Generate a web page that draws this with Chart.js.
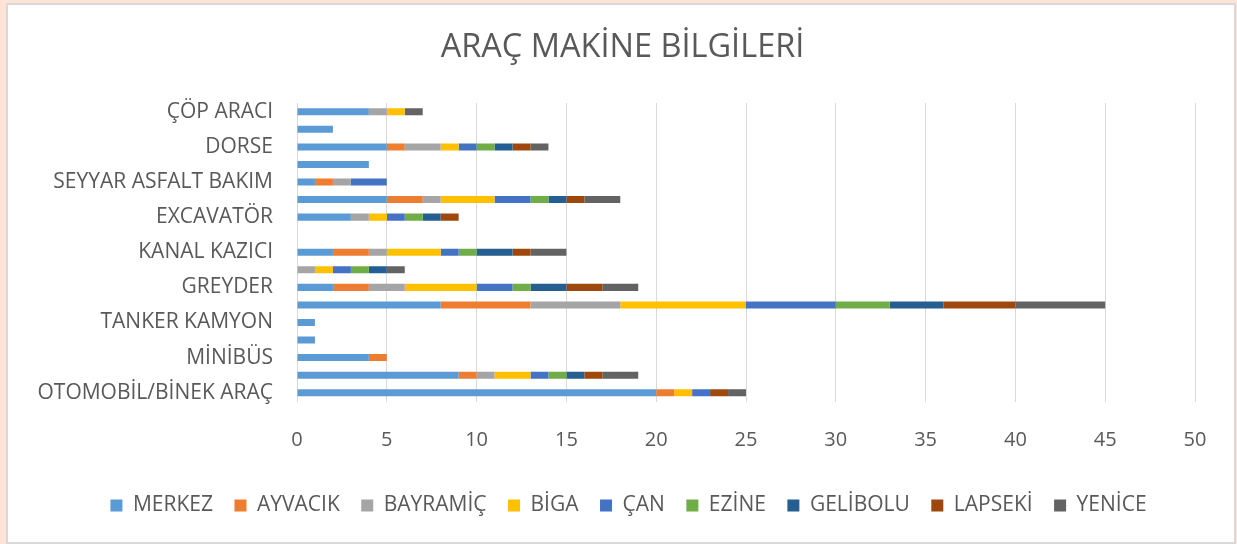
<!DOCTYPE html>
<html>
<head>
<meta charset="utf-8">
<script src="https://cdn.jsdelivr.net/npm/chart.js@4/dist/chart.umd.min.js"></script>
<style>
  html, body { margin: 0; padding: 0; background: #fde4d6; width: 1237px; height: 544px; overflow: hidden; }
  #frame { position: absolute; left: 6px; top: 3px; width: 1226px; height: 537px; background: #fff; border: 2px solid #d9d9d9; }
  #wrap { position: absolute; left: 0; top: 0; width: 1237px; height: 544px; }
</style>
</head>
<body>
<div id="frame"></div>
<div id="wrap"><canvas id="c" width="1237" height="544"></canvas></div>
<script>
// Categories, top to bottom (only every other label is shown in the reference)
const categories = [
  "ÇÖP ARACI", "VİDANJÖR", "DORSE", "TRAKTÖR", "SEYYAR ASFALT BAKIM", "KAMYONET",
  "EXCAVATÖR", "SİLİNDİR", "KANAL KAZICI", "LODER", "GREYDER", "KAMYON",
  "TANKER KAMYON", "MOTOSİKLET", "MİNİBÜS", "PİKAP", "OTOMOBİL/BİNEK ARAÇ"
];
const seriesNames = ["MERKEZ", "AYVACIK", "BAYRAMİÇ", "BİGA", "ÇAN", "EZİNE", "GELİBOLU", "LAPSEKİ", "YENİCE"];
const merkez   = [4, 2, 5, 4, 1, 5, 3, 0, 2, 0, 2, 8, 1, 1, 4, 9, 20];
const ayvacik  = [0, 0, 1, 0, 1, 2, 0, 0, 2, 0, 2, 5, 0, 0, 1, 1, 1];
const bayramic = [1, 0, 2, 0, 1, 1, 1, 0, 1, 1, 2, 5, 0, 0, 0, 1, 0];
const biga     = [1, 0, 1, 0, 0, 3, 1, 0, 3, 1, 4, 7, 0, 0, 0, 2, 1];
const can      = [0, 0, 1, 0, 2, 2, 1, 0, 1, 1, 2, 5, 0, 0, 0, 1, 1];
const ezine    = [0, 0, 1, 0, 0, 1, 1, 0, 1, 1, 1, 3, 0, 0, 0, 1, 0];
const gelibolu = [0, 0, 1, 0, 0, 1, 1, 0, 2, 1, 2, 3, 0, 0, 0, 1, 0];
const lapseki  = [0, 0, 1, 0, 0, 1, 1, 0, 1, 0, 2, 4, 0, 0, 0, 1, 1];
const yenice   = [1, 0, 1, 0, 0, 2, 0, 0, 2, 1, 2, 5, 0, 0, 0, 2, 1];
const xTicks = [0, 5, 10, 15, 20, 25, 30, 35, 40, 45, 50];

const seriesValues = [merkez, ayvacik, bayramic, biga, can, ezine, gelibolu, lapseki, yenice];
const colors = ["#5b9bd5", "#ed7d31", "#a5a5a5", "#ffc000", "#4472c4", "#70ad47", "#255e91", "#9e480e", "#636363"];

const FONT = "'Open Sans', 'DejaVu Sans', sans-serif";
const TEXT = "#595959";

// Re-centre title and legend over the whole frame (as in the original office chart)
const shiftBlocks = {
  id: 'shiftBlocks',
  afterLayout(chart) {
    if (chart.titleBlock) { chart.titleBlock.left += 10; chart.titleBlock.right += 10; }
    if (chart.legend) { chart.legend.left += 16; chart.legend.right += 16; }
  }
};

new Chart(document.getElementById('c'), {
  type: 'bar',
  data: {
    labels: categories,
    datasets: seriesNames.map((n, i) => ({
      label: n,
      data: seriesValues[i],
      backgroundColor: colors[i],
      borderWidth: 0,
      barPercentage: 0.4,
      categoryPercentage: 1.0
    }))
  },
  plugins: [shiftBlocks],
  options: {
    indexAxis: 'y',
    responsive: false,
    animation: false,
    layout: { padding: { top: 22, left: 30, right: 42, bottom: 18 } },
    plugins: {
      title: {
        display: true,
        text: 'ARAÇ MAKİNE BİLGİLERİ',
        color: TEXT,
        font: { family: FONT, size: 32.5, weight: 'normal' },
        padding: { top: 6, bottom: 36 }
      },
      legend: {
        position: 'bottom',
        labels: {
          color: TEXT,
          font: { family: FONT, size: 21 },
          boxWidth: 12,
          boxHeight: 12,
          padding: 21.5
        }
      },
      tooltip: { enabled: false }
    },
    scales: {
      x: {
        stacked: true,
        min: 0,
        max: 50,
        ticks: {
          stepSize: 5,
          color: TEXT,
          font: { family: FONT, size: 20 },
          padding: 27
        },
        afterBuildTicks: (s) => { s.ticks = xTicks.map(v => ({ value: v })); },
        grid: { color: '#d9d9d9', lineWidth: 1, drawTicks: false },
        border: { display: false },
        afterFit: (s) => { s.height = 72; }
      },
      y: {
        stacked: true,
        grid: { display: false, drawTicks: false },
        border: { display: true, color: '#d9d9d9', width: 1 },
        ticks: {
          autoSkip: false,
          color: TEXT,
          font: { family: FONT, size: 21 },
          padding: 24,
          callback: function (v, i) { return i % 2 === 0 ? this.getLabelForValue(v) : ''; }
        },
        afterFit: (s) => { s.width = 267; }
      }
    }
  }
});
</script>
</body>
</html>
